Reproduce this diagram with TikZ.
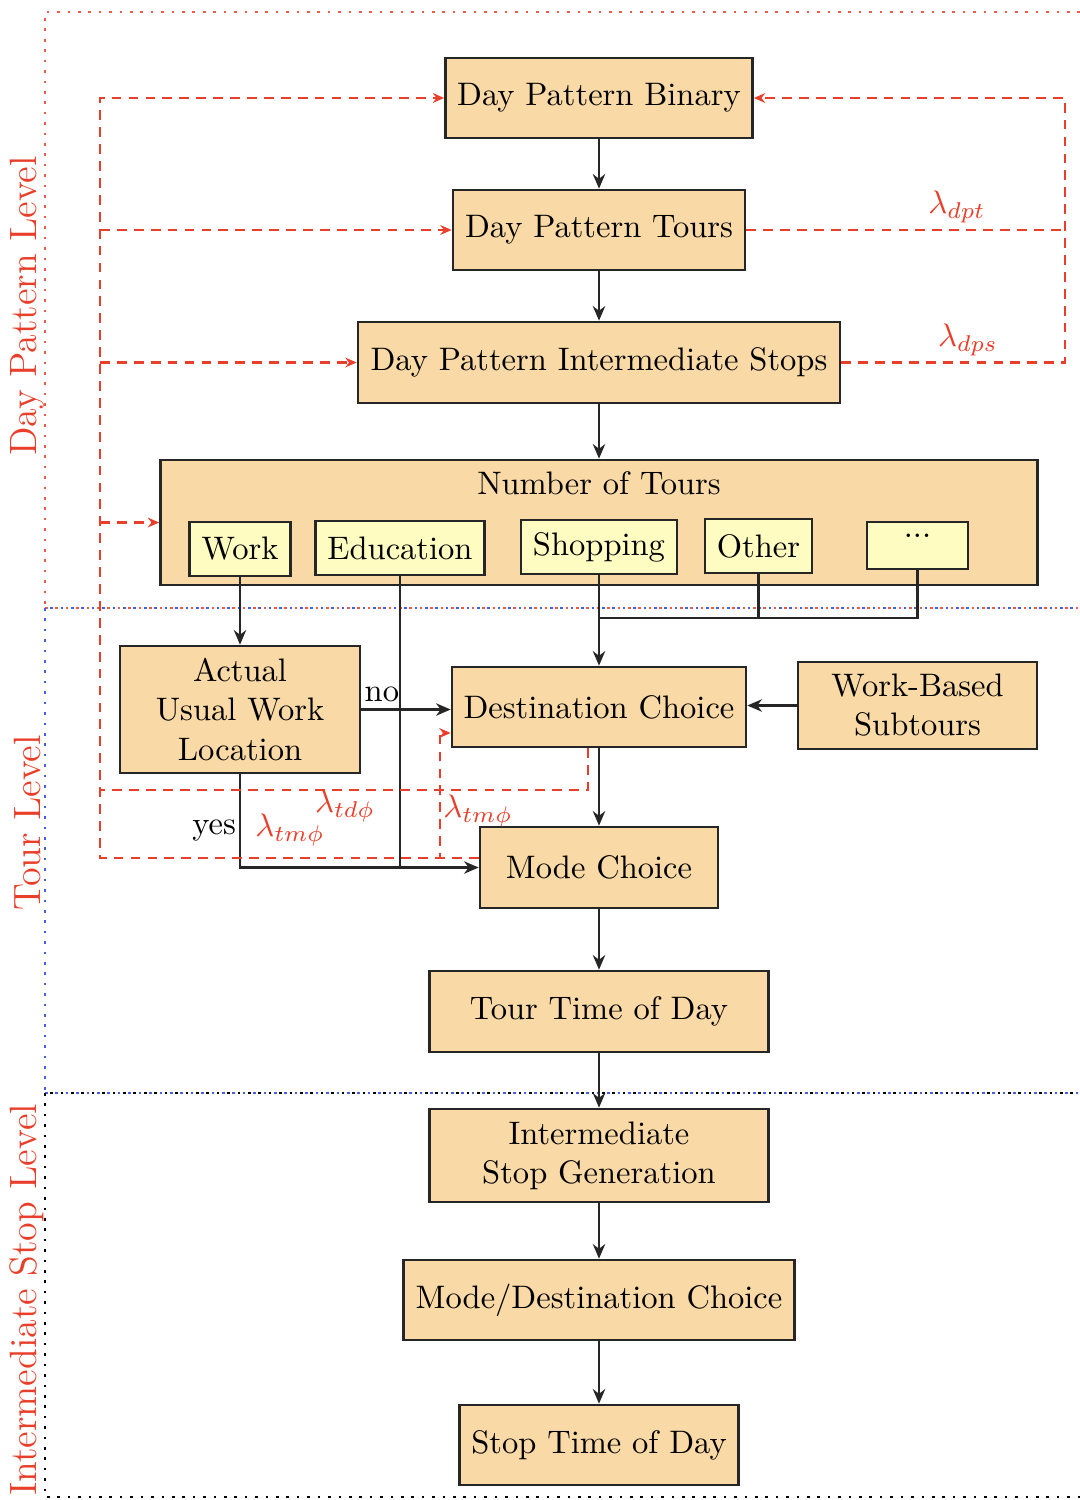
\documentclass[tikz,border=0pt]{standalone}
\usetikzlibrary{arrows.meta,calc}
\definecolor{boxfill}{RGB}{249,217,165}
\definecolor{innerfill}{RGB}{254,252,192}
\definecolor{lamred}{RGB}{232,62,42}
\definecolor{dotblue}{RGB}{70,95,225}
\begin{document}
\begin{tikzpicture}[x=0.0108cm,y=-0.0108cm,
  box/.style={draw=black!85, thick, fill=boxfill, inner sep=0pt, align=center},
  ibox/.style={draw=black!85, thick, fill=innerfill, inner sep=0pt},
  wh/.style 2 args={minimum width=#1*0.0108cm, minimum height=#2*0.0108cm},
  flow/.style={draw=black!85, line width=0.9pt, -{Stealth[length=4.5pt,width=3.8pt]}},
  link/.style={draw=black!85, line width=0.9pt},
  rd/.style={draw=lamred, line width=0.7pt, dash pattern=on 3pt off 2.2pt},
  rda/.style={rd, -{Stealth[length=3.5pt,width=3pt]}},
  lam/.style={text=lamred, inner sep=0pt},
  lvl/.style={text=lamred, rotate=90, font=\fontsize{11.7}{14}\selectfont, inner sep=0pt},
  frm/.style={line width=0.8pt, dash pattern=on 0.8pt off 2.4pt},
]
\useasboundingbox (0,0) rectangle (1080,1500);

% level frames
\draw[frm, draw=lamred!85] (1080,12) -- (45,12) -- (45,608);
\draw[frm, draw=lamred!85] (45,608) -- (1080,608);
\draw[frm, draw=dotblue, dash phase=1.6pt] (45,608) -- (1080,608);
\draw[frm, draw=dotblue] (45,608) -- (45,1093);
\draw[frm, draw=dotblue] (45,1093) -- (1080,1093);
\draw[frm, draw=black, dash phase=1.6pt] (45,1093) -- (1080,1093);
\draw[frm, draw=black] (45,1093) -- (45,1497) -- (1080,1497);

\node[lvl] (lv1) at (27,306) {Day Pattern Level};
\node[lvl] (lv2) at (27,823) {Tour Level};
\node[lvl] (lv3) at (27,1300) {Intermediate Stop Level};

% nodes
\node[box, wh={307}{80}] (dpb) at (599,98) {Day Pattern Binary};
\node[box, wh={292}{80}] (dpt) at (599,230) {Day Pattern Tours};
\node[box, wh={482}{81}] (dps) at (599,362.5) {Day Pattern Intermediate Stops};
\node[box, wh={877}{125}] (not) at (599,522.5) {\smash{\raisebox{8.7pt}{Number of Tours}}};
\node[ibox, wh={101}{54}] (work) at (240,549) {Work};
\node[ibox, wh={169}{54}] (edu) at (400,548) {Education};
\node[ibox, wh={156}{54}] (shop) at (599,547) {Shopping};
\node[ibox, wh={107}{54}] (other) at (758.5,546) {Other};
\node[ibox, wh={101}{47}] (dots) at (917.5,545.5) {\smash{\raisebox{2.6pt}{...}}};
\node[box, wh={240}{127}] (actual) at (240,709.5) {Actual\\Usual Work\\Location};
\node[box, wh={294}{80}] (dest) at (599,707) {Destination Choice};
\node[box, wh={239}{87}] (wbs) at (917.5,705.5) {Work-Based\\Subtours};
\node[box, wh={238}{81}] (mode) at (599,867.5) {Mode Choice};
\node[box, wh={339}{81}] (ttod) at (599,1011.5) {Tour Time of Day};
\node[box, wh={339}{93}] (isg) at (599,1155.5) {Intermediate\\Stop Generation};
\node[box, wh={391}{80}] (mdc) at (599,1300) {Mode/Destination Choice};
\node[box, wh={279}{80}] (stod) at (599,1445) {Stop Time of Day};

% black flow
\draw[flow] (dpb.south) -- (dpt.north);
\draw[flow] (dpt.south) -- (dps.north);
\draw[flow] (dps.south) -- (not.north);
\draw[flow] (work.south) -- (actual.north);
\coordinate (j) at (599,618);
\draw[flow] (shop.south) -- (dest.north);
\draw[link] (other.south) |- (j);
\draw[link] (dots.south) |- (j);
\draw[flow] (actual.south) |- (mode.west) node[pos=0.30, left, inner sep=0.8pt] {yes};
\draw[link] (edu.south) -- (edu.south |- mode.west);
\draw[flow] (actual.east) -- (actual.east -| dest.west) node[pos=0.23, above, inner sep=1.8pt] {no};
\draw[flow] (wbs.west) -- (wbs.west -| dest.east);
\draw[flow] (dest.south) -- (mode.north);
\draw[flow] (mode.south) -- (ttod.north);
\draw[flow] (ttod.south) -- (isg.north);
\draw[flow] (isg.south) -- (mdc.north);
\draw[flow] (mdc.south) -- (stod.north);

% red feedback
\coordinate (xL) at (100,0);
\coordinate (xR) at (1065,0);
\coordinate (m1) at ($(mode.west)+(0,-9.5)$);
\draw[rda] (m1) -| (xL |- dpb.west) -- (dpb.west);
\draw[rda] (xL |- dpt.west) -- (dpt.west);
\draw[rda] (xL |- dps.west) -- (dps.west);
\draw[rda] (xL |- not.west) -- (not.west);
\coordinate (d1) at (440,733);
\draw[rda] (m1) -| (d1) -- (d1 -| dest.west);
\coordinate (d2) at ($(dest.south)+(-11,0)$);
\coordinate (d3) at (100,790);
\draw[rd] (d2) |- (d3);
\draw[rda] (dps.east) -| (xR |- dpb.east) -- (dpb.east);
\draw[rd] (dpt.east) -- (xR |- dpt.east);

\node[lam] (l1) at (957,207) {$\lambda_{dpt}$};
\node[lam] (l2) at (968,340) {$\lambda_{dps}$};
\node[lam] (l3) at (345,806) {$\lambda_{td\phi}$};
\node[lam] (l4) at (290,830) {$\lambda_{tm\phi}$};
\node[lam] (l5) at (478,811) {$\lambda_{tm\phi}$};
\end{tikzpicture}
\end{document}
